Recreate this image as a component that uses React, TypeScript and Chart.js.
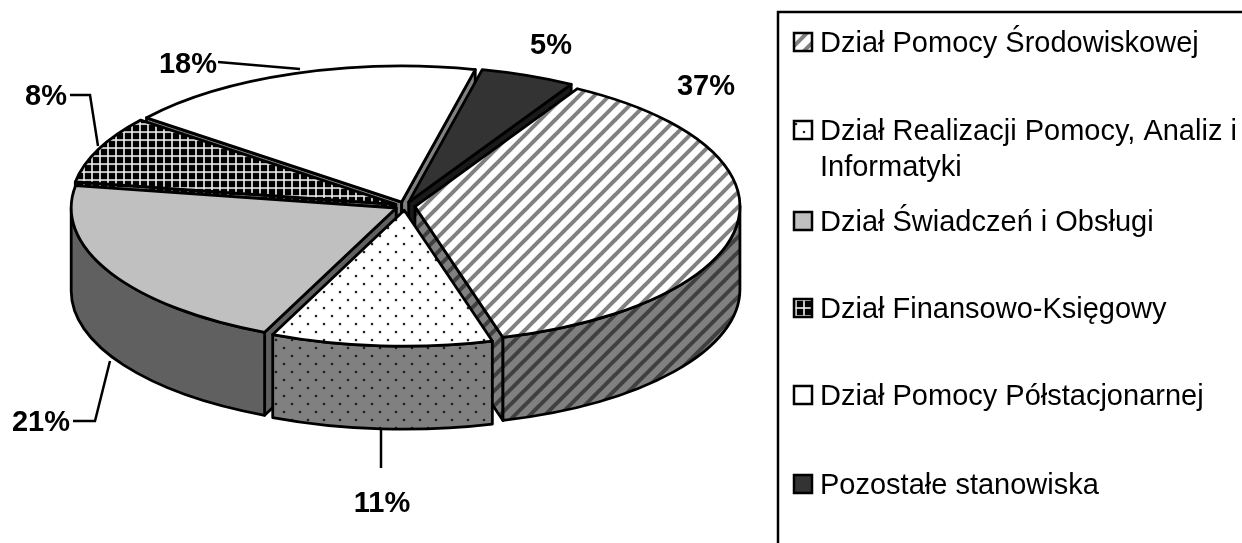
import React, { useEffect, useRef } from "react";
import { Chart, registerables } from "chart.js";

Chart.register(...registerables);

const departments = [
  "Dział Pomocy Środowiskowej",
  "Dział Realizacji Pomocy, Analiz i Informatyki",
  "Dział Świadczeń i Obsługi",
  "Dział Finansowo-Księgowy",
  "Dział Pomocy Półstacjonarnej",
  "Pozostałe stanowiska",
];
const shares = [37.3, 11, 21, 8, 18, 4.7];

// Layout (pixels on the page)
const CX = 405, CY = 206, RX = 325, RY = 136, DEPTH = 83, EXPLODE = 10;
const FIRST_ANGLE = 30;
const LABEL_POS = [[706, 87], [382, 504], [41, 423], [46, 97], [188, 65], [551, 46]];
const LEADERS = [
  [],
  [[381, 429], [381, 468]],
  [[73, 421], [95, 421], [110, 361]],
  [[70, 95], [90, 95], [98, 146]],
  [[218, 62], [300, 69]],
  [],
];
const LEGEND_Y = [42, 130, 221, 308, 395, 484];
const LEGEND_LINE = 36;
const STROKE = 2.8;

type Look = { kind: string; base: string; ink: string; wallBase: string; wallInk: string };
const LOOKS: Look[] = [
  { kind: "diag", base: "#ffffff", ink: "#808080", wallBase: "#808080", wallInk: "#404040" },
  { kind: "dots", base: "#ffffff", ink: "#202020", wallBase: "#808080", wallInk: "#202020" },
  { kind: "solid", base: "#c0c0c0", ink: "", wallBase: "#606060", wallInk: "" },
  { kind: "grid", base: "#000000", ink: "#f0f0f0", wallBase: "#000000", wallInk: "#808080" },
  { kind: "solid", base: "#ffffff", ink: "", wallBase: "#808080", wallInk: "" },
  { kind: "solid", base: "#333333", ink: "", wallBase: "#1a1a1a", wallInk: "" },
];

function makeFill(kind: string, base: string, ink: string): any {
  if (kind === "solid") return base;
  const size = kind === "diag" ? 15 : kind === "grid" ? 8 : 16;
  const c = document.createElement("canvas");
  c.width = size;
  c.height = size;
  const g = c.getContext("2d")!;
  g.fillStyle = base;
  g.fillRect(0, 0, size, size);
  if (kind === "diag") {
    g.strokeStyle = ink;
    g.lineWidth = 4;
    for (const d of [-size, 0, size]) {
      g.beginPath();
      g.moveTo(d - 2, size + 2);
      g.lineTo(d + size + 2, -2);
      g.stroke();
    }
  } else if (kind === "grid") {
    g.fillStyle = ink;
    g.fillRect(3.2, 0, 1.6, size);
    g.fillRect(0, 3.2, size, 1.6);
  } else {
    g.fillStyle = ink;
    for (const [x, y] of [[4, 4], [12, 12]]) {
      g.beginPath();
      g.arc(x, y, 1.3, 0, Math.PI * 2);
      g.fill();
    }
  }
  return g.createPattern(c, "repeat");
}

const pieFace = {
  id: "pieFace",
  beforeDatasetsDraw(chart: any) {
    const ctx: CanvasRenderingContext2D = chart.ctx;
    const arcs = chart.getDatasetMeta(0).data.map((a: any, i: number) => ({ a, i }));
    const walls = LOOKS.map((l) => makeFill(l.kind, l.wallBase, l.wallInk));
    const mid = (a: any) => (a.startAngle + a.endAngle) / 2;
    arcs.sort((p: any, q: any) => Math.sin(mid(p.a)) - Math.sin(mid(q.a)));
    ctx.lineWidth = STROKE;
    ctx.strokeStyle = "#000";
    ctx.lineJoin = "round";
    for (const { a, i } of arcs) {
      const m = mid(a);
      const cx = CX + Math.cos(m) * EXPLODE;
      const cy = CY + (Math.sin(m) * EXPLODE * RY) / RX;
      const s = a.startAngle, e = a.endAngle;
      const px = (t: number) => cx + Math.cos(t) * RX;
      const py = (t: number) => cy + Math.sin(t) * RY;
      const paint = (fill: any) => {
        ctx.fillStyle = fill;
        ctx.fill();
        ctx.stroke();
      };
      const face = (t: number) => {
        ctx.beginPath();
        ctx.moveTo(cx, cy);
        ctx.lineTo(px(t), py(t));
        ctx.lineTo(px(t), py(t) + DEPTH);
        ctx.lineTo(cx, cy + DEPTH);
        ctx.closePath();
        paint(walls[i]);
      };
      if (Math.cos(s) < 0) face(s);
      if (Math.cos(e) > 0) face(e);
      for (let k = -1; k <= 2; k++) {
        const lo = Math.max(s, 2 * Math.PI * k);
        const hi = Math.min(e, Math.PI + 2 * Math.PI * k);
        if (hi > lo) {
          ctx.beginPath();
          ctx.ellipse(cx, cy, RX, RY, 0, lo, hi);
          ctx.lineTo(px(hi), py(hi) + DEPTH);
          ctx.ellipse(cx, cy + DEPTH, RX, RY, 0, hi, lo, true);
          ctx.closePath();
          paint(walls[i]);
        }
      }
      // Top face: the library's own arc, squashed into an ellipse.
      const sx = RX / a.outerRadius, sy = RY / a.outerRadius;
      const tx = cx - a.x * sx, ty = cy - a.y * sy;
      const pattern = a.options.backgroundColor;
      if (pattern && pattern.setTransform) {
        pattern.setTransform(new DOMMatrix([1 / sx, 0, 0, 1 / sy, -tx / sx, -ty / sy]));
      }
      ctx.save();
      ctx.transform(sx, 0, 0, sy, tx, ty);
      a.draw(ctx);
      ctx.restore();
      if (pattern && pattern.setTransform) pattern.setTransform(new DOMMatrix());
      ctx.lineWidth = STROKE;
      ctx.strokeStyle = "#000";
      ctx.lineJoin = "round";
      ctx.beginPath();
      ctx.moveTo(cx, cy);
      ctx.ellipse(cx, cy, RX, RY, 0, s, e);
      ctx.closePath();
      ctx.stroke();
    }
    return false;
  },
  afterDraw(chart: any) {
    const ctx: CanvasRenderingContext2D = chart.ctx;
    const values: number[] = chart.data.datasets[0].data;
    const fills: any[] = chart.data.datasets[0].backgroundColor;
    ctx.save();
    ctx.strokeStyle = "#000";
    ctx.lineWidth = 2.5;
    ctx.lineJoin = "miter";
    for (const path of LEADERS) {
      if (!path.length) continue;
      ctx.beginPath();
      path.forEach(([x, y], j) => (j ? ctx.lineTo(x, y) : ctx.moveTo(x, y)));
      ctx.stroke();
    }
    ctx.fillStyle = "#000";
    ctx.font = 'bold 29px "Liberation Sans"';
    ctx.textAlign = "center";
    ctx.textBaseline = "middle";
    values.forEach((v, i) => ctx.fillText(`${Math.round(v)}%`, LABEL_POS[i][0], LABEL_POS[i][1]));

    // Legend frame (runs off the page to the right and the bottom)
    ctx.lineWidth = 2.5;
    ctx.strokeRect(778, 12, 600, 700);
    ctx.font = '29px "Liberation Sans"';
    ctx.textAlign = "left";
    (chart.data.labels as string[]).forEach((label, i) => {
      const y = LEGEND_Y[i];
      ctx.lineWidth = 2.5;
      ctx.fillStyle = fills[i];
      ctx.fillRect(794, y - 9, 18, 18);
      ctx.strokeRect(794, y - 9, 18, 18);
      const lines: string[] = [];
      let cur = "";
      for (const w of label.split(" ")) {
        const t = cur ? cur + " " + w : w;
        if (ctx.measureText(t).width > 1242 - 820 && cur) {
          lines.push(cur);
          cur = w;
        } else cur = t;
      }
      lines.push(cur);
      ctx.fillStyle = "#000";
      lines.forEach((l, j) => ctx.fillText(l, 820, y + 2 + j * LEGEND_LINE));
    });
    ctx.restore();
  },
};

export default function App() {
  const ref = useRef<HTMLCanvasElement>(null);
  useEffect(() => {
    const chart = new Chart(ref.current!, {
      type: "pie",
      data: {
        labels: departments,
        datasets: [
          {
            data: shares,
            backgroundColor: LOOKS.map((l) => makeFill(l.kind, l.base, l.ink)),
            borderWidth: 0,
          },
        ],
      },
      options: {
        animation: false,
        responsive: false,
        events: [],
        rotation: FIRST_ANGLE,
        plugins: { legend: { display: false }, tooltip: { enabled: false } },
      },
      plugins: [pieFace],
    } as any);
    return () => chart.destroy();
  }, []);
  return (
    <div style={{ position: "fixed", left: 0, top: 0, width: 1242, height: 543, background: "#fff" }}>
      <canvas ref={ref} width={1242} height={543} style={{ display: "block" }} />
    </div>
  );
}
